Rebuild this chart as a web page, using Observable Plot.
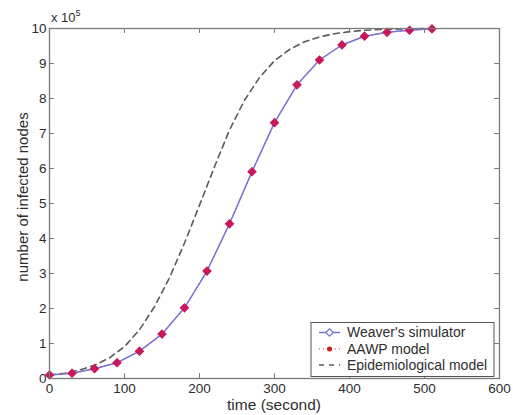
<!DOCTYPE html>
<html>
<head>
<meta charset="utf-8">
<script src="https://cdn.jsdelivr.net/npm/d3@7"></script>
<script src="https://cdn.jsdelivr.net/npm/@observablehq/plot@0.6"></script>
<style>
  html, body { margin: 0; padding: 0; background: #fff; }
  #chart svg { display: block; font-family: "Liberation Sans", Arial, sans-serif; }
</style>
</head>
<body>
<div id="chart"></div>
<script>
// ---- data (values in units of 10^5 nodes) ----
const simTimes = [0, 30, 60, 90, 120, 150, 180, 210, 240, 270, 300, 330, 360, 390, 420, 450, 480, 510];
const weaverValues = [0.10, 0.15, 0.28, 0.45, 0.78, 1.27, 2.02, 3.07, 4.42, 5.91, 7.31, 8.39, 9.10, 9.53, 9.78, 9.89, 9.95, 9.99];
const aawpValues = [0.10, 0.15, 0.28, 0.45, 0.78, 1.27, 2.02, 3.07, 4.42, 5.91, 7.31, 8.39, 9.10, 9.53, 9.78, 9.89, 9.95, 9.99];
const epiTimes = [0, 20, 40, 60, 80, 100, 120, 140, 160, 180, 200, 220, 240, 260, 280, 300, 320, 340, 360, 380, 400, 420, 440, 460, 480, 510];
const epiValues = [0.10, 0.15, 0.24, 0.38, 0.59, 0.91, 1.39, 2.05, 2.88, 3.87, 4.95, 6.05, 7.10, 7.95, 8.60, 9.08, 9.40, 9.62, 9.76, 9.85, 9.91, 9.95, 9.97, 9.98, 9.99, 10.0];
const xTicks = [0, 100, 200, 300, 400, 500, 600];
const yTicks = [0, 1, 2, 3, 4, 5, 6, 7, 8, 9, 10];
const seriesNames = ["Weaver's simulator", "AAWP model", "Epidemiological model"];
const xLabel = "time (second)";
const yLabel = "number of infected nodes";

const weaver = simTimes.map((t, i) => ({t, v: weaverValues[i]}));
const aawp = simTimes.map((t, i) => ({t, v: aawpValues[i]}));
const epi = epiTimes.map((t, i) => ({t, v: epiValues[i]}));

const W = 513, H = 415;
const M = {top: 28, right: 14, bottom: 37, left: 49};
const axisColor = "#7a7a7a";
const textColor = "#2e2e2e";
const blue = "#7474d6";
const red = "#c8185c";

const chart = Plot.plot({
  width: W, height: H,
  marginTop: M.top, marginRight: M.right, marginBottom: M.bottom, marginLeft: M.left,
  style: {fontFamily: "Liberation Sans, Arial, sans-serif", fontSize: "13.5px", color: textColor, background: "#fff"},
  x: {domain: [0, 600], ticks: xTicks, tickSize: 0, tickPadding: 5, label: null},
  y: {domain: [0, 10], ticks: yTicks, tickSize: 0, tickPadding: 3, label: null},
  marks: [
    Plot.line(epi, {x: "t", y: "v", stroke: "#5a5a5a", strokeWidth: 1.6, strokeDasharray: "6,4.5"}),
    Plot.line(aawp, {x: "t", y: "v", stroke: "#e03030", strokeWidth: 1, strokeDasharray: "1,3"}),
    Plot.line(weaver, {x: "t", y: "v", stroke: blue, strokeWidth: 1.5}),
    Plot.dot(weaver, {x: "t", y: "v", symbol: "diamond2", r: 3.6, fill: red, stroke: red, strokeWidth: 1.2}),
    Plot.frame({stroke: axisColor, strokeWidth: 1.3}),
    // inward ticks
    Plot.ruleX(xTicks, {x: d => d, y1: 0, y2: 0.14, stroke: axisColor}),
    Plot.ruleX(xTicks, {x: d => d, y1: 9.86, y2: 10, stroke: axisColor}),
    Plot.ruleY(yTicks, {y: d => d, x1: 0, x2: 6.5, stroke: axisColor}),
    Plot.ruleY(yTicks, {y: d => d, x1: 593.5, x2: 600, stroke: axisColor})
  ]
});

document.getElementById("chart").appendChild(chart);

const svg = d3.select(chart);
const xs = chart.scale("x"), ys = chart.scale("y");
const x0 = xs.apply(0), x1 = xs.apply(600), yTop = ys.apply(10), yBot = ys.apply(0);

// x 10^5 multiplier
const mult = svg.append("text")
  .attr("x", x0 + 2).attr("y", yTop - 6)
  .attr("text-anchor", "start")
  .attr("font-size", 13).attr("fill", textColor);
mult.append("tspan").text("x 10");
mult.append("tspan").attr("dy", -6).attr("font-size", 9).text("5");

// axis labels
svg.append("text")
  .attr("x", (x0 + x1) / 2).attr("y", yBot + 32)
  .attr("text-anchor", "middle").attr("font-size", 15.5).attr("fill", textColor)
  .text(xLabel);
svg.append("text")
  .attr("transform", `translate(${x0 - 21},${(yTop + yBot) / 2 - 6}) rotate(-90)`)
  .attr("text-anchor", "middle").attr("font-size", 15).attr("fill", textColor)
  .text(yLabel);

// legend
const lg = svg.append("g").attr("transform", `translate(${x1 - 188},${yBot - 55.5})`);
lg.append("rect").attr("width", 183).attr("height", 54)
  .attr("fill", "#fff").attr("stroke", "#555").attr("stroke-width", 1);
const rowY = [10, 26.5, 42.5];
// Weaver
lg.append("line").attr("x1", 8).attr("x2", 29).attr("y1", rowY[0]).attr("y2", rowY[0])
  .attr("stroke", blue).attr("stroke-width", 1.5);
lg.append("path").attr("d", d3.symbol(d3.symbolDiamond2, 36)())
  .attr("transform", `translate(18.5,${rowY[0]})`).attr("fill", "#fff").attr("stroke", blue).attr("stroke-width", 1.2);
// AAWP
lg.append("line").attr("x1", 8).attr("x2", 29).attr("y1", rowY[1]).attr("y2", rowY[1])
  .attr("stroke", "#e03030").attr("stroke-width", 1).attr("stroke-dasharray", "1,3");
lg.append("circle").attr("cx", 18.5).attr("cy", rowY[1]).attr("r", 2.5).attr("fill", "#d01818");
// Epi
lg.append("line").attr("x1", 8).attr("x2", 29).attr("y1", rowY[2]).attr("y2", rowY[2])
  .attr("stroke", "#5a5a5a").attr("stroke-width", 1.4).attr("stroke-dasharray", "5,5");
seriesNames.forEach((s, i) => {
  lg.append("text").attr("x", 36).attr("y", rowY[i]).attr("dy", "0.35em")
    .attr("text-anchor", "start")
    .attr("font-size", 14).attr("fill", textColor).text(s);
});
</script>
</body>
</html>
